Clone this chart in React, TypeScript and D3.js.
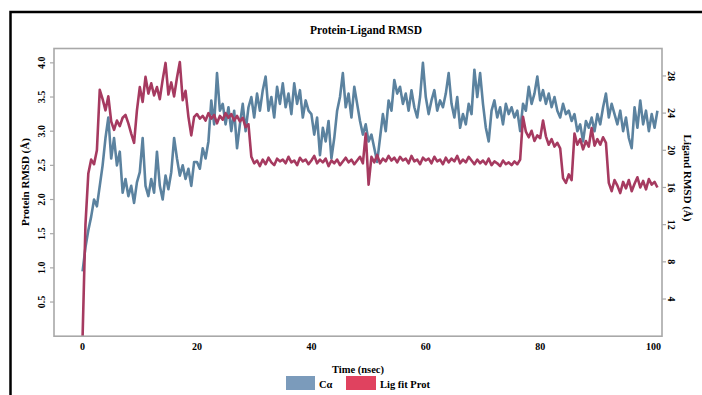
import React from "react";
import * as d3 from "d3";

const TIME_STEP = 0.5;
const X_TICKS = [0, 20, 40, 60, 80, 100];
const LEFT_TICKS = [0.5, 1.0, 1.5, 2.0, 2.5, 3.0, 3.5, 4.0];
const RIGHT_TICKS = [4, 8, 12, 16, 20, 24, 28];

// Cα RMSD (left axis, Å), sampled every 0.5 ns
const caRmsd = [
  0.95, 1.3, 1.55, 1.75, 2.0, 1.9, 2.2, 2.5, 2.9, 3.2,
  2.6, 2.9, 2.5, 2.7, 2.1, 2.3, 2.05, 2.2, 1.95, 2.25,
  2.4, 2.9, 2.2, 2.05, 2.3, 2.1, 2.7, 2.2, 2.0, 2.35,
  2.15, 2.4, 2.9, 2.6, 2.35, 2.5, 2.3, 2.45, 2.2, 2.55,
  2.55, 2.45, 2.75, 2.6, 2.85, 3.45, 3.1, 3.85, 3.3, 3.4,
  3.1, 3.35, 3.0, 3.3, 2.75, 3.1, 3.4, 3.0, 3.35, 3.5,
  3.2, 3.55, 3.3, 3.6, 3.8, 3.3, 3.5, 3.2, 3.65, 3.4,
  3.7, 3.35, 3.55, 3.25, 3.7, 3.4, 3.6, 3.2, 3.45, 3.3,
  3.25, 2.95, 3.2, 2.65, 3.05, 2.85, 3.15, 2.6, 2.9, 3.3,
  3.5, 3.85, 3.35, 3.55, 3.2, 3.65, 3.4, 3.15, 2.95, 3.1,
  2.85, 2.95, 2.75, 2.55, 2.9, 3.25, 3.0, 3.45, 3.3, 3.75,
  3.55, 3.65, 3.4, 3.55, 3.3, 3.6, 3.35, 3.2, 3.5, 4.0,
  3.5, 3.25, 3.45, 3.6, 3.3, 3.45, 3.35, 3.55, 3.85, 3.4,
  3.2, 3.5, 3.05, 3.25, 3.1, 3.4, 3.25, 3.9, 3.5, 3.85,
  3.4, 3.05, 2.85, 3.3, 3.45, 3.2, 3.35, 3.1, 3.4, 3.25,
  3.35, 3.2, 3.3, 3.0, 3.4, 3.3, 3.65, 3.4, 3.55, 3.8,
  3.45, 3.6, 3.4, 3.55, 3.35, 3.5, 3.3, 3.2, 3.4, 3.25,
  3.3, 3.15, 3.25, 3.0, 3.1, 2.85, 3.15, 3.05, 3.2, 3.0,
  3.25, 3.1, 3.35, 3.55, 3.2, 3.4, 3.25, 3.1, 3.3, 3.0,
  3.2, 2.9, 2.75, 3.35, 3.05, 3.45, 3.1, 3.3, 3.0, 3.25,
  3.05, 3.3,
];

// Lig fit Prot RMSD (right axis, Å), sampled every 0.5 ns
const ligFitProt = [
  0, 12.0, 17.5, 19.0, 18.5, 20.0, 26.5, 25.5, 24.3, 25.8,
  23.1, 22.2, 23.2, 22.6, 23.5, 23.8, 22.9, 21.8, 20.8, 24.3,
  26.8, 25.2, 27.9, 26.1, 27.2, 25.9, 26.8, 25.5, 27.6, 29.4,
  26.0, 27.3, 25.8, 27.8, 29.5, 25.4, 26.4, 23.6, 21.6, 23.6,
  23.9, 23.4, 23.7, 23.2, 24.0, 23.4, 23.8, 22.9, 23.7, 23.3,
  24.0, 23.5, 23.9, 23.2, 23.7, 23.1, 23.5, 22.5, 22.8, 19.3,
  18.6, 18.9, 18.3, 19.0, 18.5, 19.2, 18.7, 18.4, 19.1, 18.8,
  19.0, 18.6, 19.3, 18.7, 18.9, 18.4, 19.2, 18.8, 19.0, 18.5,
  18.9, 19.4, 18.6, 19.0, 18.7, 19.1, 18.3, 18.9, 18.6, 19.0,
  18.4, 18.8, 19.2, 18.7, 19.0, 18.5, 18.9, 19.3, 18.6, 21.8,
  16.3, 19.3, 18.7, 19.5, 18.6, 19.1, 18.8, 19.4, 18.9, 19.2,
  18.7, 19.3, 18.9, 19.1, 18.6, 19.4, 18.8, 19.0, 18.5, 19.2,
  18.9, 19.1, 18.6, 19.3, 18.8, 19.0, 18.5, 19.2, 18.7, 19.1,
  18.8, 19.4, 18.6, 19.0, 18.7, 19.3, 18.9, 18.5, 19.0, 18.6,
  18.9, 18.5, 19.1, 18.4, 18.8, 18.6, 18.3, 18.9, 18.5, 18.7,
  18.4, 18.8, 18.5, 19.0, 23.6, 22.0, 21.4, 22.1, 21.0, 21.6,
  21.3, 23.2, 21.5, 20.6, 21.2, 20.4, 20.8, 20.2, 17.0, 16.5,
  17.4, 16.8, 21.8, 20.6, 21.2, 20.1, 21.0, 20.4, 22.4, 20.5,
  21.2, 20.6, 21.4, 20.8, 16.5, 15.6, 16.8, 16.2, 15.4, 16.6,
  15.9, 16.8, 15.6, 16.4, 17.1, 16.0, 16.7, 15.8, 16.9, 16.3,
  16.6, 16.0,
];

const W = 702;
const H = 395;
const plot = { left: 54, right: 662, top: 48.5, bottom: 336.2 };
const FONT = "'Liberation Serif', 'Times New Roman', serif";
const BLUE = "#5b829f";
const RED = "#a63a60";

export default function App() {
  const x = d3.scaleLinear().domain([-5, 101.3]).range([plot.left, plot.right]);
  const yL = d3.scaleLinear().domain([0, 4.21]).range([plot.bottom, plot.top]);
  const yR = d3.scaleLinear().domain([0, 30.95]).range([plot.bottom, plot.top]);

  const blueLine = d3
    .line<number>()
    .x((_, i) => x(i * TIME_STEP))
    .y((d) => yL(d));
  const redLine = d3
    .line<number>()
    .x((_, i) => x(i * TIME_STEP))
    .y((d) => yR(d));

  return (
    <svg
      width={W}
      height={H}
      style={{ position: "absolute", left: 0, top: 0, background: "#fff" }}
      fontFamily={FONT}
      fontWeight="bold"
    >
      <rect x={0} y={0} width={W} height={H} fill="#fff" />
      <rect x={10.5} y={12} width={760} height={420} fill="none" stroke="#000" strokeWidth={2.5} />

      <text x={366} y={34} textAnchor="middle" fontSize={11.5}>
        Protein-Ligand RMSD
      </text>

      <clipPath id="clip">
        <rect x={plot.left} y={plot.top} width={plot.right - plot.left} height={plot.bottom - plot.top} />
      </clipPath>

      <g clipPath="url(#clip)">
        <path d={blueLine(caRmsd) || ""} fill="none" stroke={BLUE} strokeWidth={2.6} strokeLinejoin="round" />
        <path d={redLine(ligFitProt) || ""} fill="none" stroke={RED} strokeWidth={2.6} strokeLinejoin="round" />
      </g>

      <rect
        x={plot.left}
        y={plot.top}
        width={plot.right - plot.left}
        height={plot.bottom - plot.top}
        fill="none"
        stroke="#a8a8a8"
        strokeWidth={1.6}
      />

      {LEFT_TICKS.map((t) => (
        <g key={"l" + t}>
          <line x1={plot.left - 4} x2={plot.left} y1={yL(t)} y2={yL(t)} stroke="#a8a8a8" strokeWidth={1.2} />
          <text
            transform={`translate(${44.5},${yL(t)}) rotate(-90)`}
            textAnchor="middle"
            fontSize={10}
          >
            {t.toFixed(1)}
          </text>
        </g>
      ))}

      {RIGHT_TICKS.map((t) => (
        <g key={"r" + t}>
          <line x1={plot.right} x2={plot.right + 4} y1={yR(t)} y2={yR(t)} stroke="#a8a8a8" strokeWidth={1.2} />
          <text
            transform={`translate(${667.5},${yR(t)}) rotate(90)`}
            textAnchor="middle"
            fontSize={10}
          >
            {t}
          </text>
        </g>
      ))}

      {X_TICKS.map((t) => (
        <text key={"x" + t} x={t === 100 ? x(t) - 1 : x(t)} y={350} textAnchor="middle" fontSize={10}>
          {t}
        </text>
      ))}

      <text transform={`translate(29,182) rotate(-90)`} textAnchor="middle" fontSize={11}>
        Protein RMSD (Å)
      </text>
      <text transform={`translate(684,178) rotate(90)`} textAnchor="middle" fontSize={11}>
        Ligand RMSD (Å)
      </text>

      <text x={358} y={373} textAnchor="middle" fontSize={10.5}>
        Time (nsec)
      </text>

      <rect x={286} y={376} width={29} height={14} fill="#7b9bbb" />
      <text x={319} y={388} fontSize={10.5}>
        Cα
      </text>
      <rect x={346} y={376} width={30} height={14} fill="#e0425f" />
      <text x={380} y={388} fontSize={10.5}>
        Lig fit Prot
      </text>
    </svg>
  );
}
